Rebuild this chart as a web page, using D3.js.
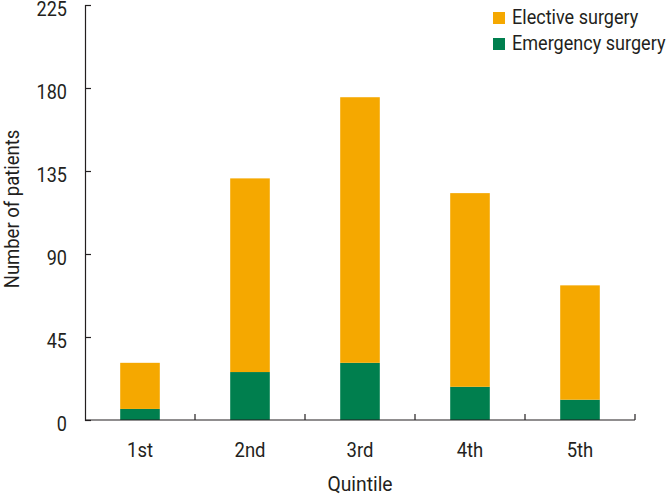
<!DOCTYPE html>
<html><head><meta charset="utf-8">
<script src="https://cdn.jsdelivr.net/npm/d3@7"></script>
<style>body{margin:0;background:#fff}svg{display:block}text{font-family:Roboto,"Liberation Sans",sans-serif;fill:#231f20}</style>
</head><body><svg id="c" width="667" height="496"></svg>
<script>
const categories = ["1st","2nd","3rd","4th","5th"];
const emergency = [6, 26, 31, 18, 11];
const elective = [25, 105, 144, 105, 62];
const yTicks = [0,45,90,135,180,225];
const seriesNames = ["Elective surgery","Emergency surgery"];
const colors = {"Elective surgery":"#F5A800","Emergency surgery":"#007F4E"};

const svg = d3.select("#c");
const m = {l:85, r:32, t:5, b:76};
const W = 667, H = 496;
const FS = 21;
const x = d3.scaleBand().domain(categories).range([m.l, W-m.r]).paddingInner(0.64).paddingOuter(0.32);
const y = d3.scaleLinear().domain([0,225]).range([H-m.b, m.t]);

const rows = categories.map((c,i)=>({cat:c, "Emergency surgery":emergency[i], "Elective surgery":elective[i]}));
const stack = d3.stack().keys(["Emergency surgery","Elective surgery"])(rows);

svg.append("g").selectAll("g").data(stack).join("g").attr("fill",d=>colors[d.key])
  .selectAll("rect").data(d=>d).join("rect")
  .attr("x",d=>x(d.data.cat)).attr("width",x.bandwidth())
  .attr("y",d=>y(d[1])).attr("height",d=>y(d[0])-y(d[1]));

// condensed text helper
function ctext(g, px, py, str, anchor, sx, rot){
  return g.append("text")
    .attr("transform",`translate(${px},${py})${rot?` rotate(${rot})`:""} scale(${sx},1)`)
    .attr("text-anchor",anchor).attr("font-size",FS).text(str);
}

// y axis
const ya = svg.append("g").attr("transform",`translate(${m.l},0)`)
  .call(d3.axisLeft(y).tickValues(yTicks).tickSize(-6).tickFormat(""));
ya.select(".domain").attr("stroke","#231f20").attr("stroke-width",1.2);
ya.selectAll(".tick line").attr("stroke","#231f20").attr("stroke-width",1.2);
const yl = svg.append("g");
yTicks.forEach(t=>ctext(yl, m.l-18, y(t)+FS*0.5, String(t), "end", 0.86));

// x axis
const step = x.step();
const xa = svg.append("g").attr("transform",`translate(0,${y(0)})`);
xa.append("line").attr("x1",m.l).attr("x2",W-m.r).attr("stroke","#231f20").attr("stroke-width",1.2);
xa.selectAll("line.tk").data(categories).join("line").attr("class","tk")
  .attr("x1",d=>x(d)+x.bandwidth()/2+step/2).attr("x2",d=>x(d)+x.bandwidth()/2+step/2)
  .attr("y1",0).attr("y2",-6).attr("stroke","#231f20").attr("stroke-width",1.2);
categories.forEach(c=>ctext(xa, x(c)+x.bandwidth()/2, 37, c, "middle", 0.88));

ctext(svg, (m.l+W-m.r)/2, 491, "Quintile", "middle", 0.92);
ctext(svg, 19, 209, "Number of patients", "middle", 0.88, -90);

// legend
const lg = svg.append("g").attr("transform","translate(493,12)");
seriesNames.forEach((s,i)=>{
  const g = lg.append("g").attr("transform",`translate(0,${i*26})`);
  g.append("rect").attr("width",12).attr("height",12).attr("fill",colors[s]);
  ctext(g, 19, 12, s, "start", 0.86);
});
</script></body></html>
